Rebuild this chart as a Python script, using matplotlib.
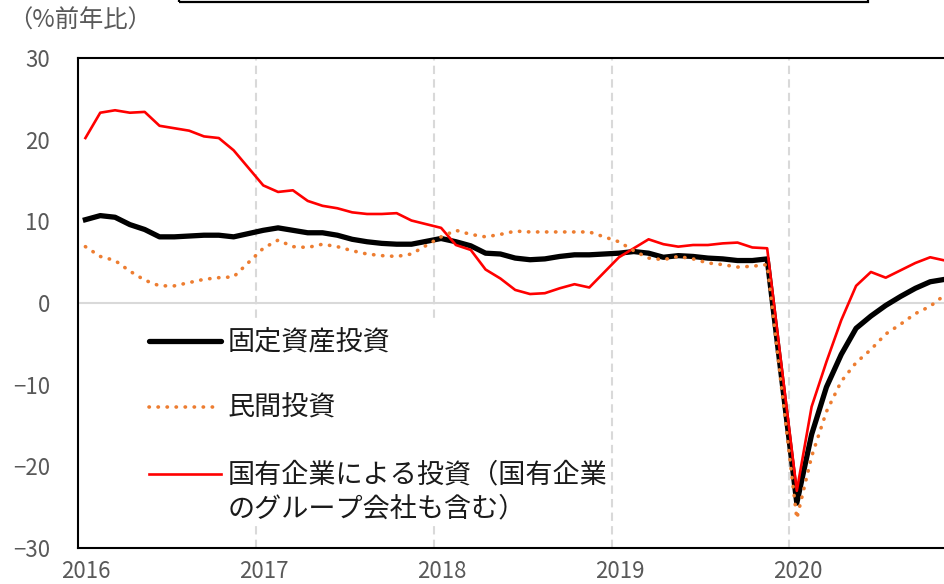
import matplotlib
matplotlib.use("Agg")
import matplotlib.pyplot as plt
from matplotlib.patches import Rectangle

plt.rcParams['font.family'] = ['Noto Sans CJK JP', 'DejaVu Sans']

# -------------------------
# Data (YTD, % y/y; Jan is not published, so Feb..Dec each year)
# -------------------------
years = [2016, 2017, 2018, 2019, 2020]
months = list(range(2, 13))

fixed_asset = [
    10.2, 10.7, 10.5, 9.6, 9.0, 8.1, 8.1, 8.2, 8.3, 8.3, 8.1,
    8.9, 9.2, 8.9, 8.6, 8.6, 8.3, 7.8, 7.5, 7.3, 7.2, 7.2,
    7.9, 7.5, 7.0, 6.1, 6.0, 5.5, 5.3, 5.4, 5.7, 5.9, 5.9,
    6.1, 6.3, 6.1, 5.6, 5.8, 5.7, 5.5, 5.4, 5.2, 5.2, 5.4,
    -24.5, -16.1, -10.3, -6.3, -3.1, -1.6, -0.3, 0.8, 1.8, 2.6, 2.9,
]
private_inv = [
    6.9, 5.7, 5.2, 3.9, 2.8, 2.1, 2.1, 2.5, 2.9, 3.1, 3.2,
    6.7, 7.7, 6.9, 6.8, 7.2, 6.9, 6.4, 6.0, 5.8, 5.7, 6.0,
    8.1, 8.9, 8.4, 8.1, 8.4, 8.8, 8.7, 8.7, 8.7, 8.7, 8.7,
    7.5, 6.4, 5.5, 5.3, 5.7, 5.4, 4.9, 4.7, 4.4, 4.5, 4.7,
    -26.4, -18.8, -13.3, -9.6, -7.3, -5.7, -3.8, -2.6, -1.3, -0.4, 1.0,
]
soe_inv = [
    20.2, 23.3, 23.6, 23.3, 23.4, 21.7, 21.4, 21.1, 20.4, 20.2, 18.7,
    14.4, 13.6, 13.8, 12.5, 11.9, 11.6, 11.1, 10.9, 10.9, 11.0, 10.1,
    9.2, 7.1, 6.5, 4.1, 3.0, 1.6, 1.1, 1.2, 1.8, 2.3, 1.9,
    5.6, 6.7, 7.8, 7.2, 6.9, 7.1, 7.1, 7.3, 7.4, 6.8, 6.7,
    -23.0, -12.7, -7.2, -2.1, 2.1, 3.8, 3.1, 4.0, 4.9, 5.6, 5.2,
]

labels = ['固定資産投資', '民間投資', '国有企業による投資（国有企業', 'のグループ会社も含む）']
y_ticks = [30, 20, 10, 0, -10, -20, -30]

# month positions on a continuous year axis
x = [y + (m - 1.5) / 12 for y in years for m in months]

# -------------------------
# Figure
# -------------------------
W, H = 945, 584
fig = plt.figure(figsize=(W / 100, H / 100), dpi=100)
ax = fig.add_axes([78 / W, 1 - 548 / H, (945 - 78) / W, (548 - 58) / H])

ax.set_xlim(2016, 2020.875)
ax.set_ylim(-30, 30)

grey = '#D9D9D9'
for yr in years[1:]:
    ax.axvline(yr, color=grey, lw=1.5, ls=(0, (4, 2.5)), zorder=1)
ax.axhline(0, color=grey, lw=1.5, zorder=1)

ax.plot(x, soe_inv, color='#FF0000', lw=1.9, zorder=5)
ax.plot(x, private_inv, color='#ED7D31', lw=2.6, ls=(0, (0.1, 2.4)),
        dash_capstyle='round', zorder=6)
ax.plot(x, fixed_asset, color='black', lw=3.8, zorder=4, solid_joinstyle='round')

# ticks
ax.set_yticks(y_ticks)
ax.set_yticklabels([f'{v}'.replace('-', '\u2212') for v in y_ticks])
ax.set_xticks([yr + 0.045 for yr in years])
ax.set_xticklabels([str(yr) for yr in years])
ax.tick_params(axis='y', length=0, pad=20, labelsize=16, labelcolor='#595959')
ax.tick_params(axis='x', length=0, pad=9, labelsize=16, labelcolor='#595959')

for side in ['left', 'bottom', 'top']:
    ax.spines[side].set_linewidth(1.5)
    ax.spines[side].set_color('black')
ax.spines['right'].set_visible(False)


# manual legend (pixel positions converted to axes fraction)
def fx(px):
    return (px - 78) / 867


def fy(py):
    return (548 - py) / 490


ax.add_patch(Rectangle((fx(140), fy(524)), fx(606) - fx(140), fy(318) - fy(524),
                       transform=ax.transAxes, facecolor='white', edgecolor='none', zorder=3))
ax.plot([fx(149), fx(221)], [fy(341), fy(341)], transform=ax.transAxes,
        color='black', lw=3.8, solid_capstyle='round', zorder=7)
ax.plot([fx(149), fx(221)], [fy(407), fy(407)], transform=ax.transAxes,
        color='#ED7D31', lw=2.6, ls=(0, (0.1, 2.4)), dash_capstyle='round', zorder=7)
ax.plot([fx(149), fx(221)], [fy(474), fy(474)], transform=ax.transAxes,
        color='#FF0000', lw=1.9, zorder=7)

txt_kw = dict(transform=ax.transAxes, fontsize=19.5, color='#1a1a1a', va='center', ha='left', zorder=8)
ax.text(fx(228), fy(342), labels[0], **txt_kw)
ax.text(fx(228), fy(408), labels[1], **txt_kw)
ax.text(fx(228), fy(475), labels[2], **txt_kw)
ax.text(fx(228), fy(509), labels[3], **txt_kw)

# unit label
fig.text(8 / W, 1 - 21 / H, '（%前年比）', fontsize=17.5, color='#595959', va='center', ha='left')

# partially visible title box at the top
fig.patches.append(Rectangle((179 / W, 1 - 2 / H), (868 - 179) / W, 0.2, transform=fig.transFigure,
                             fill=False, edgecolor='black', lw=1.6, clip_on=False))

fig.savefig('out.png', dpi=100)
